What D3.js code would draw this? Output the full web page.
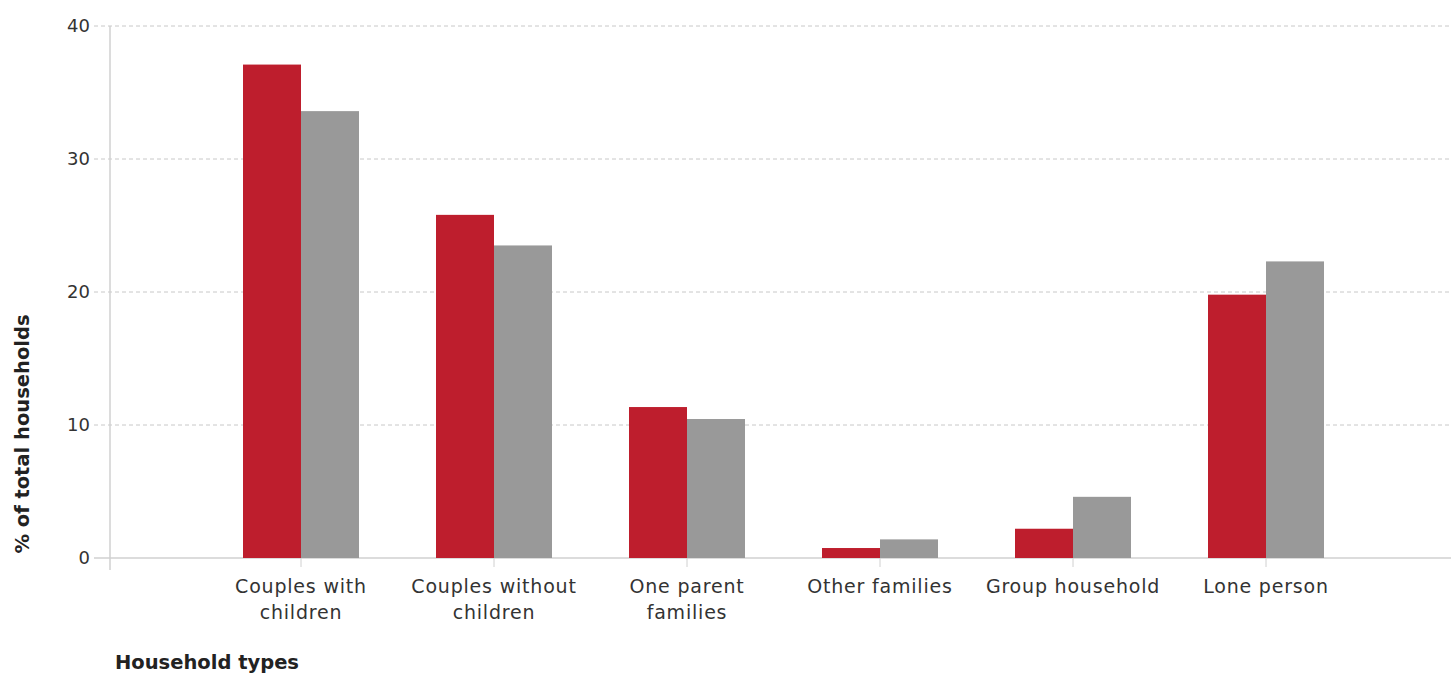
<!DOCTYPE html>
<html><head><meta charset="utf-8">
<script src="https://cdn.jsdelivr.net/npm/d3@7"></script>
<style>body{margin:0;background:#fff;} svg{display:block;}</style>
</head><body>
<script>
const categories = [["Couples with","children"],["Couples without","children"],["One parent","families"],["Other families"],["Group household"],["Lone person"]];
const seriesA = [37.1, 25.8, 11.35, 0.75, 2.2, 19.8];
const seriesB = [33.6, 23.5, 10.45, 1.4, 4.6, 22.3];
const yTicks = [0, 10, 20, 30, 40];

const W = 1451, H = 673;
const svg = d3.select("body").append("svg").attr("width", W).attr("height", H);
const font = "'DejaVu Sans', Verdana, sans-serif";
const keys = categories.map(c => c.join(" "));

const x = d3.scalePoint().domain(keys).range([108, 1459]).padding(1);
const y = d3.scaleLinear().domain([0, 40]).range([558, 26]);
const bw = 58;

// gridlines
svg.append("g").selectAll("line").data(yTicks.filter(t => t > 0)).join("line")
  .attr("x1", 94).attr("x2", W).attr("y1", d => y(d)).attr("y2", d => y(d))
  .attr("stroke", "#c8c8c8").attr("stroke-dasharray", "4,3").attr("stroke-width", 1);
// zero line
svg.append("line").attr("x1", 94).attr("x2", W).attr("y1", y(0)).attr("y2", y(0))
  .attr("stroke", "#d0d0d0").attr("stroke-width", 1.5);
// left axis line
svg.append("line").attr("x1", 110).attr("x2", 110).attr("y1", y(40)).attr("y2", 570)
  .attr("stroke", "#d0d0d0").attr("stroke-width", 1.5);

// y tick labels
svg.append("g").selectAll("text").data(yTicks).join("text")
  .attr("x", 90).attr("y", d => y(d)).attr("dy", "0.35em").attr("text-anchor", "end")
  .attr("font-family", font).attr("font-size", 18).attr("fill", "#333")
  .text(d => d);

// bars
svg.append("g").selectAll("rect").data(seriesA).join("rect")
  .attr("x", (d, i) => x(keys[i]) - bw).attr("width", bw)
  .attr("y", d => y(d)).attr("height", d => y(0) - y(d)).attr("fill", "#BE1E2D");
svg.append("g").selectAll("rect").data(seriesB).join("rect")
  .attr("x", (d, i) => x(keys[i])).attr("width", bw)
  .attr("y", d => y(d)).attr("height", d => y(0) - y(d)).attr("fill", "#999999");

// x ticks
svg.append("g").selectAll("line").data(keys).join("line")
  .attr("x1", d => x(d)).attr("x2", d => x(d)).attr("y1", y(0)).attr("y2", 567)
  .attr("stroke", "#d0d0d0").attr("stroke-width", 1);

// x labels
const xl = svg.append("g").selectAll("text").data(categories).join("text")
  .attr("x", (d, i) => x(keys[i])).attr("y", 593).attr("text-anchor", "middle")
  .attr("font-family", font).attr("font-size", 19).attr("letter-spacing", 0.8).attr("fill", "#333");
xl.each(function(d) {
  const t = d3.select(this);
  d.forEach((line, j) => {
    t.append("tspan").attr("x", t.attr("x")).attr("dy", j === 0 ? 0 : 26).text(line);
  });
});

// axis titles
svg.append("text").attr("transform", "translate(29,434) rotate(-90)")
  .attr("text-anchor", "middle").attr("font-family", font).attr("font-size", 19.5)
  .attr("font-weight", "bold").attr("fill", "#222").text("% of total households");
svg.append("text").attr("x", 115).attr("y", 669)
  .attr("font-family", font).attr("font-size", 19.5)
  .attr("font-weight", "bold").attr("fill", "#222").text("Household types");
</script>
</body></html>
